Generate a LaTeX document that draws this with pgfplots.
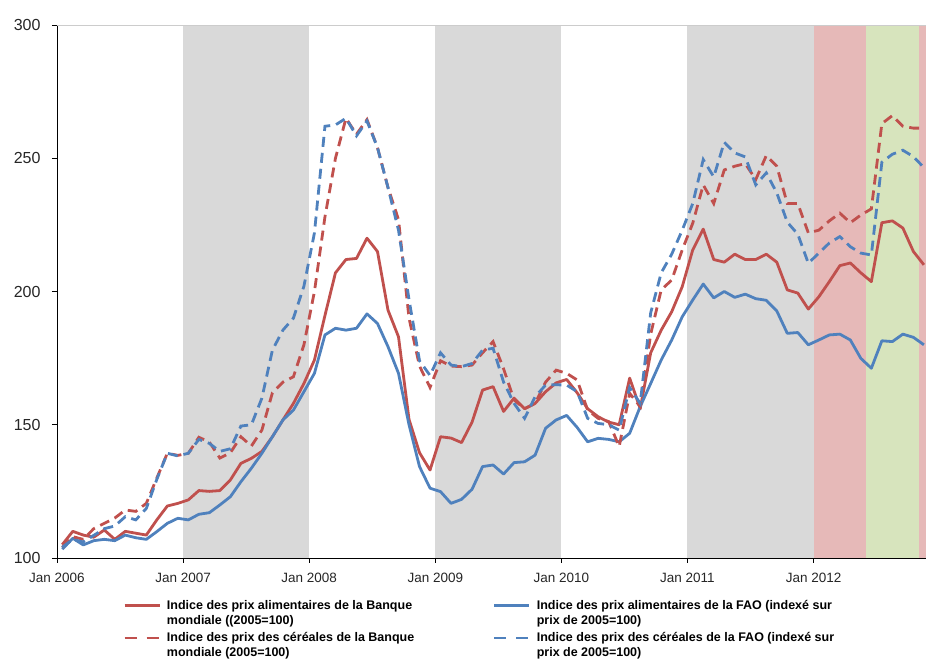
\documentclass[border=0pt]{standalone}
\usepackage{fontspec}
\setmainfont{Liberation Sans}
\usepackage{pgfplots}
\usepackage{pgfplotstable}
\pgfplotsset{compat=1.18}

\definecolor{wbred}{RGB}{192,80,77}
\definecolor{faoblue}{RGB}{79,129,189}
\definecolor{bandgray}{RGB}{217,217,217}
\definecolor{bandred}{RGB}{230,185,184}
\definecolor{bandgreen}{RGB}{215,228,189}

% m = months since Jan 2006; wbf/fao = food indices, wbc/faoc = cereal indices
\pgfplotstableread{
m wbf fao wbc faoc
0 105 103.3 104 104
1 110 107.4 108 107
2 108.6 104.9 107 106
3 107.8 106.5 111 108.5
4 110.5 107 113 111
5 107 106.5 115 112
6 110 108.6 118 115.5
7 109.3 107.6 117.5 114.3
8 108.6 107 120.5 118.6
9 114.3 109.9 130 129.5
10 119.5 113 139.3 139.3
11 120.5 114.9 138.5 138.3
12 121.8 114.3 139.3 139.3
13 125.3 116.4 145.3 144.5
14 125 117 143.5 143
15 125.3 119.9 137.5 140
16 129.3 123 139.5 141
17 135.5 128.6 145.5 149.5
18 137.4 133.7 142 150
19 140 139.3 148 160
20 145.5 145.5 162 178
21 151.8 151.8 166 185.5
22 158 155.5 168 190
23 165.5 162.4 180 202
24 174.3 169.3 200 222
25 191 183.7 228 262
26 207 186.2 250 262.5
27 212 185.5 265 265
28 212.4 186.2 259 258.4
29 220 191.6 264.5 264
30 215 188 254 254
31 193 179.3 239 239
32 183 169.3 227 223
33 152 150 190 197
34 139.5 134.3 172 174
35 133 126.2 164 168.5
36 145.5 124.9 174 177
37 145 120.5 172 172.4
38 143.3 122 171.8 171.8
39 151 125.8 172.4 173
40 163 134.3 177 178
41 164.3 134.9 181.2 178.7
42 155 131.5 171 166
43 160 135.8 159.3 158
44 156 136.1 156 152.4
45 158 138.6 158 160.5
46 162.4 148.7 166 164.9
47 165.7 151.8 170.5 165
48 167 153.5 169.3 164.9
49 162 149 166.8 162.4
50 156 143.6 155.5 152.4
51 153 144.9 152.4 150.5
52 151 144.5 151.2 150
53 150 143.6 141.8 148
54 167.5 146.8 161.8 164
55 156 156.8 156.8 158
56 177 165.5 184 192
57 185.5 174.3 200.6 207
58 192.4 181.8 204.3 214
59 201.8 190.5 215.6 223
60 215.6 196.8 225.6 233
61 223.4 202.8 240 249.5
62 212 197.6 233 243
63 211 200 245.6 256
64 214 197.8 247 252
65 212 199 248 250.5
66 212 197.3 242 240
67 214 196.7 251 244.5
68 211 192.7 247 237
69 200.6 184.3 233 226
70 199.4 184.6 233 221.5
71 193.4 180 222 210.6
72 198 181.8 223 214.4
73 203.7 183.7 226.5 218.2
74 209.7 184 229.4 220.6
75 210.7 181.8 225.8 216.8
76 207 174.9 228.7 214.4
77 203.7 171.2 231 213.7
78 225.8 181.5 263 248.5
79 226.5 181.2 266 251.5
80 223.8 184 262 253
81 215 182.8 261.3 250.6
82 210 180 261.3 246.5
}\prix

\begin{document}
\begin{tikzpicture}
\begin{axis}[
  at={(0,0)}, anchor=south west,
  scale only axis, width=869pt, height=533pt,
  xmin=0, xmax=82.7, ymin=100, ymax=300,
  axis x line*=bottom, axis y line*=left,
  axis line style={-, black, line width=0.8pt},
  xtick={0,12,24,36,48,60,72},
  xticklabels={Jan 2006,Jan 2007,Jan 2008,Jan 2009,Jan 2010,Jan 2011,Jan 2012},
  ytick={100,150,200,250,300},
  tick align=outside, major tick length=5pt,
  tick style={black, line width=0.8pt},
  tick label style={text=black!85},
  x tick label style={font=\fontsize{13.5}{16}\selectfont, yshift=-7pt},
  y tick label style={font=\fontsize{16}{19}\selectfont, xshift=-8pt},
  /pgf/number format/assume math mode=true,
  clip mode=individual,
  no marks,
  legend columns=2,
  legend style={draw=none, fill=none, at={(0.0725,-0.073)}, anchor=north west,
    font=\fontsize{12.5}{15}\selectfont\bfseries,
    nodes={inner sep=1pt}, cells={anchor=base west},
    /tikz/column sep=0pt, /tikz/row sep=20pt,
    /tikz/every odd column/.append style={column sep=5pt},
    /tikz/every even column/.append style={column sep=5pt}},
  legend image code/.code={\draw[#1] (0pt,4pt) -- (35pt,4pt);},
]
% shaded periods
\addplot[fill=bandgray, draw=none, forget plot] coordinates {(12,300) (24,300)} \closedcycle;
\addplot[fill=bandgray, draw=none, forget plot] coordinates {(36,300) (48,300)} \closedcycle;
\addplot[fill=bandgray, draw=none, forget plot] coordinates {(60,300) (72,300)} \closedcycle;
\addplot[fill=bandred, draw=none, forget plot] coordinates {(72,300) (77,300)} \closedcycle;
\addplot[fill=bandgreen, draw=none, forget plot] coordinates {(77,300) (82,300)} \closedcycle;
\addplot[fill=bandred, draw=none, forget plot] coordinates {(82,300) (82.7,300)} \closedcycle;
\draw[gray!40, line width=0.8pt] (rel axis cs:0,1) -- (rel axis cs:1,1);

\addplot[wbred, line width=2.8pt, line join=round] table[x expr=\thisrow{m}+0.5, y=wbf] {\prix};
\addlegendentry{\parbox[t]{320pt}{Indice des prix alimentaires de la Banque\\mondiale ((2005=100)}}
\addplot[faoblue, line width=2.8pt, line join=round] table[x expr=\thisrow{m}+0.5, y=fao] {\prix};
\addlegendentry{\parbox[t]{345pt}{Indice des prix alimentaires de la FAO (indexé sur\\prix de 2005=100)}}
\addplot[wbred, line width=2.8pt, dash pattern=on 10pt off 6pt,
  legend image post style={dash pattern=on 12pt off 10pt}] table[x expr=\thisrow{m}+0.5, y=wbc] {\prix};
\addlegendentry{\parbox[t]{320pt}{Indice des prix des céréales de la Banque\\mondiale (2005=100)}}
\addplot[faoblue, line width=2.8pt, dash pattern=on 10pt off 6pt,
  legend image post style={dash pattern=on 12pt off 10pt}] table[x expr=\thisrow{m}+0.5, y=faoc] {\prix};
\addlegendentry{\parbox[t]{345pt}{Indice des prix des céréales de la FAO (indexé sur\\prix de 2005=100)}}
\end{axis}
\pgfresetboundingbox
\path (-57pt,-102pt) rectangle (869pt,558pt);
\end{tikzpicture}
\end{document}
